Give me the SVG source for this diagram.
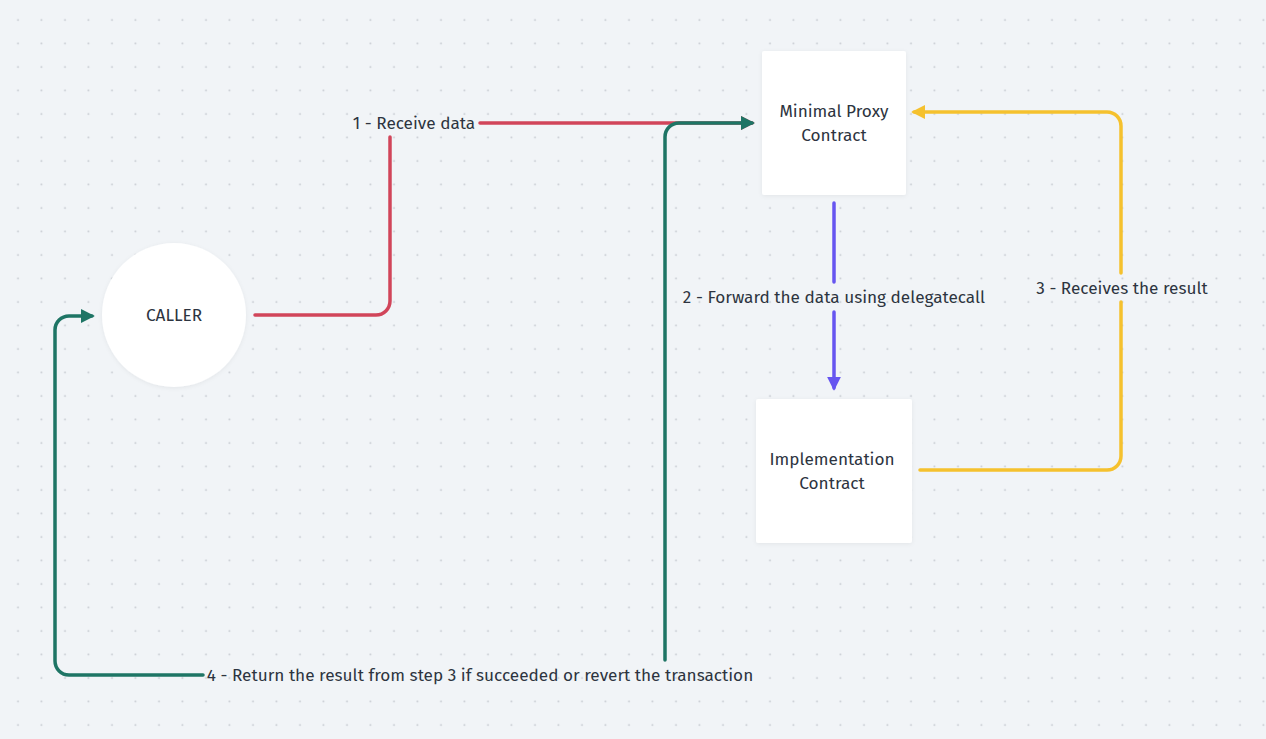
<svg xmlns="http://www.w3.org/2000/svg" width="1266" height="739" viewBox="0 0 1266 739">
<defs>
<pattern id="dots" x="6" y="8" width="23.5" height="23.5" patternUnits="userSpaceOnUse"><circle cx="12" cy="12" r="1" fill="#c8ccd2"/></pattern>
<marker id="ar" viewBox="0 0 10 10" refX="8" refY="5" markerWidth="4" markerHeight="4" orient="auto" markerUnits="strokeWidth"><path d="M0,0L10,5L0,10z" fill="#d1455a"/></marker>
<marker id="ag" viewBox="0 0 10 10" refX="8" refY="5" markerWidth="4" markerHeight="4" orient="auto" markerUnits="strokeWidth"><path d="M0,0L10,5L0,10z" fill="#1e7565"/></marker>
<marker id="ap" viewBox="0 0 10 10" refX="8" refY="5" markerWidth="4" markerHeight="4" orient="auto" markerUnits="strokeWidth"><path d="M0,0L10,5L0,10z" fill="#6655f0"/></marker>
<marker id="ay" viewBox="0 0 10 10" refX="8" refY="5" markerWidth="4" markerHeight="4" orient="auto" markerUnits="strokeWidth"><path d="M0,0L10,5L0,10z" fill="#f5c12e"/></marker>
<filter id="sh" x="-10%" y="-10%" width="120%" height="120%"><feDropShadow dx="0" dy="1" stdDeviation="2" flood-color="#000" flood-opacity="0.06"/></filter>
</defs>
<style>
text{font-family:"Fira Sans","Noto Sans","Open Sans",sans-serif;font-size:17.2px;fill:#2d3440;text-anchor:middle}
.c{fill:none;stroke-width:3.5;stroke-linecap:round}
.n{fill:#fff;filter:url(#sh)}
</style>
<rect width="1266" height="739" fill="#f1f4f7"/>
<rect width="1266" height="739" fill="url(#dots)"/>
<g id="connectors">
<path class="c" stroke="#d1455a" d="M255,315H376a14,14 0 0 0 14,-14V137" />
<path class="c" stroke="#d1455a" marker-end="url(#ar)" d="M480,123H752"/>
<path class="c" stroke="#1e7565" marker-end="url(#ag)" d="M665,660V137a14,14 0 0 1 14,-14H752"/>
<path class="c" stroke="#1e7565" d="M203,675H69a14,14 0 0 1 -14,-14V330a14,14 0 0 1 14,-14H92" marker-end="url(#ag)"/>
<path class="c" stroke="#6655f0" d="M834,203V282"/>
<path class="c" stroke="#6655f0" marker-end="url(#ap)" d="M834,312V388"/>
<path class="c" stroke="#f5c12e" d="M920,470H1107a14,14 0 0 0 14,-14V302"/>
<path class="c" stroke="#f5c12e" marker-end="url(#ay)" d="M1121,273V126a14,14 0 0 0 -14,-14H914"/>
<text x="414" y="129">1 - Receive data</text>
<text x="834" y="303">2 - Forward the data using delegatecall</text>
<text x="1122" y="294">3 - Receives the result</text>
<text x="480" y="681">4 - Return the result from step 3 if succeeded or revert the transaction</text>
</g>
<g id="caller"><circle class="n" cx="174" cy="315" r="72"/><text x="174" y="321">CALLER</text></g>
<g id="proxy"><rect class="n" x="762" y="51" width="144" height="144" rx="2"/><text x="834" y="117">Minimal Proxy</text><text x="834" y="141">Contract</text></g>
<g id="impl"><rect class="n" x="756" y="399" width="156" height="144" rx="2"/><text x="832" y="465">Implementation</text><text x="832" y="489">Contract</text></g>
</svg>
